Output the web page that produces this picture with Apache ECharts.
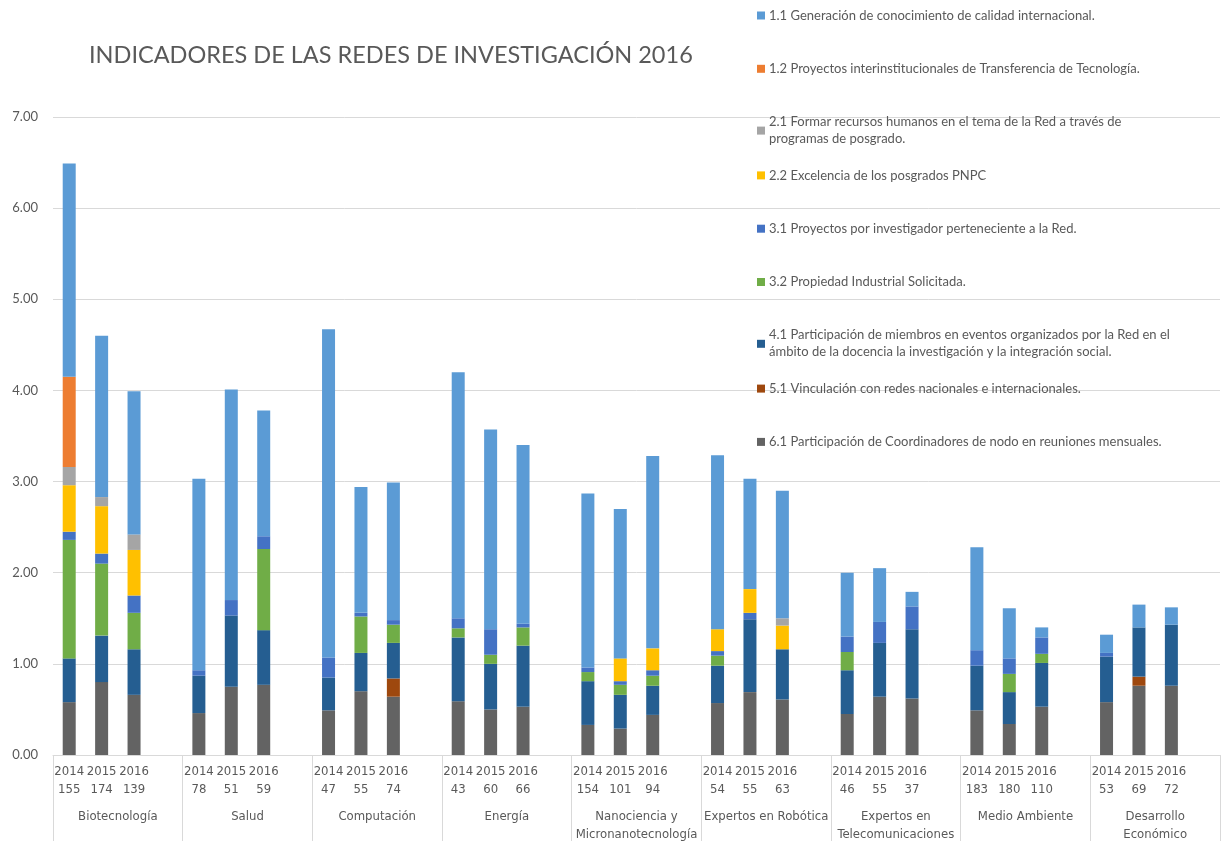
<!DOCTYPE html>
<html><head><meta charset="utf-8">
<script src="https://cdn.jsdelivr.net/npm/echarts/dist/echarts.min.js"></script>
<style>html,body{margin:0;padding:0;background:#fff}#c{width:1225px;height:844px}</style>
</head><body><div id="c"></div>
<script>
// ---- data ----
const groups = ['Biotecnología','Salud','Computación','Energía','Nanociencia y\nMicronanotecnología','Expertos en Robótica','Expertos en\nTelecomunicaciones','Medio Ambiente','Desarrollo\nEconómico'];
const years = ['2014','2015','2016'];
const counts = [155,174,139, 78,51,59, 47,55,74, 43,60,66, 154,101,94, 54,55,63, 46,55,37, 183,180,110, 53,69,72];
const yTicks = [0,1,2,3,4,5,6,7];

const names = {
  s11:'1.1 Generación de conocimiento de calidad internacional.',
  s12:'1.2 Proyectos interinstitucionales de Transferencia de Tecnología.',
  s21:'2.1 Formar recursos humanos en el tema de la Red a través de\nprogramas de posgrado.',
  s22:'2.2 Excelencia de los posgrados PNPC',
  s31:'3.1 Proyectos por investigador perteneciente a la Red.',
  s32:'3.2 Propiedad Industrial Solicitada.',
  s41:'4.1 Participación de miembros en eventos organizados por la Red en el\námbito de la docencia la investigación y la integración social.',
  s51:'5.1 Vinculación con redes nacionales e internacionales.',
  s61:'6.1 Participación de Coordinadores de nodo en reuniones mensuales.'
};
// values per bar: 9 groups x (2014, 2015, 2016)
const s61 = [0.58,0.80,0.66, 0.46,0.75,0.77, 0.49,0.70,0.64, 0.59,0.50,0.53, 0.33,0.29,0.44, 0.57,0.69,0.61, 0.45,0.64,0.62, 0.49,0.34,0.53, 0.58,0.76,0.76];
const s51 = [0,0,0, 0,0,0, 0,0,0.20, 0,0,0, 0,0,0, 0,0,0, 0,0,0, 0,0,0, 0,0.10,0];
const s41 = [0.48,0.51,0.50, 0.41,0.78,0.60, 0.36,0.42,0.39, 0.70,0.50,0.67, 0.48,0.37,0.32, 0.41,0.80,0.55, 0.48,0.59,0.76, 0.49,0.35,0.48, 0.50,0.54,0.67];
const s32 = [1.30,0.79,0.40, 0,0,0.89, 0,0.40,0.20, 0.10,0.10,0.20, 0.10,0.11,0.11, 0.11,0,0, 0.20,0,0, 0,0.20,0.10, 0,0,0];
const s31 = [0.09,0.11,0.19, 0.06,0.17,0.14, 0.22,0.04,0.05, 0.11,0.28,0.04, 0.05,0.04,0.06, 0.05,0.07,0, 0.17,0.23,0.25, 0.17,0.17,0.18, 0.04,0,0];
const s22 = [0.51,0.52,0.50, 0,0,0, 0,0,0, 0,0,0, 0,0.25,0.24, 0.24,0.26,0.26, 0,0,0, 0,0,0, 0,0,0];
const s21 = [0.20,0.10,0.17, 0,0,0, 0,0,0, 0,0,0, 0,0,0, 0,0,0.08, 0,0,0, 0,0,0, 0,0,0];
const s12 = [0.99,0,0, 0,0,0, 0,0,0, 0,0,0, 0,0,0, 0,0,0, 0,0,0, 0,0,0, 0,0,0];
const s11 = [2.34,1.77,1.57, 2.10,2.31,1.38, 3.60,1.38,1.51, 2.70,2.19,1.96, 1.91,1.64,2.11, 1.91,1.21,1.40, 0.70,0.59,0.16, 1.13,0.55,0.11, 0.20,0.25,0.19];

// ---- build ----
const colors = {s11:'#5B9BD5',s12:'#ED7D31',s21:'#A5A5A5',s22:'#FFC000',s31:'#4472C4',s32:'#70AD47',s41:'#255E91',s51:'#9E480E',s61:'#636363'};
const valuesByKey = {s61,s51,s41,s32,s31,s22,s21,s12,s11};
const stackOrder = ['s61','s51','s41','s32','s31','s22','s21','s12','s11'];
const legendOrder = ['s11','s12','s21','s22','s31','s32','s41','s51','s61'];

const catKeys = [], catLabels = [];
groups.forEach((g, gi) => {
  years.forEach((y, yi) => { catKeys.push('g'+gi+'y'+yi); catLabels.push(y + '\n' + counts[gi*3+yi]); });
  catKeys.push('g'+gi+'gap'); catLabels.push('');
});
function expand(arr){
  const out = [];
  groups.forEach((g, gi) => { for (let k=0;k<3;k++) out.push(arr[gi*3+k]); out.push(null); });
  return out;
}
const fontTxt = "Lato, 'Noto Sans', sans-serif";
const fontNarrow = "'Liberation Sans Narrow', 'DejaVu Sans Condensed', Lato, sans-serif";

const series = stackOrder.map(k => ({
  name: names[k], type: 'bar', stack: 'total', barWidth: 13,
  itemStyle: {color: colors[k]}, data: expand(valuesByKey[k]), animation: false
}));

const legends = legendOrder.map((k, i) => ({
  data: [names[k]], left: 757, top: 7 + i*53.3, orient: 'vertical', padding: 0,
  itemWidth: 8, itemHeight: 8, itemGap: 0, icon: 'rect', selectedMode: false,
  textStyle: {color:'#595959', fontSize: 13, lineHeight: 17, fontFamily: fontTxt, padding:[0,0,0,-1]}
}));

const chart = echarts.init(document.getElementById('c'));
chart.setOption({
  animation: false,
  backgroundColor: '#fff',
  title: { text: 'INDICADORES DE LAS REDES DE INVESTIGACIÓN 2016', left: 84, top: 38,
    textStyle: {color:'#595959', fontSize: 23.5, fontWeight: 'normal', fontFamily: fontTxt} },
  legend: legends,
  grid: {left: 53, right: 5, top: 117, bottom: 86, containLabel: false},
  xAxis: [
    { type:'category', data: catKeys, boundaryGap: true,
      axisLine: {show: true, lineStyle: {color:'#d9d9d9'}},
      axisTick: {show: false},
      axisLabel: {interval: 0, margin: 8, color:'#595959', fontSize: 13, lineHeight: 18, fontFamily: fontNarrow,
        formatter: (v, i) => catLabels[i]} },
    { type:'category', data: groups, boundaryGap: true, position: 'bottom',
      axisLine: {show: false},
      axisTick: {show: true, interval: 0, length: 86, lineStyle: {color:'#d9d9d9'}},
      axisLabel: {interval: 0, margin: 53, color:'#595959', fontSize: 13, lineHeight: 18, fontFamily: fontNarrow} }
  ],
  yAxis: { type:'value', min: yTicks[0], max: yTicks[yTicks.length-1], interval: 1,
    axisLine: {show:false}, axisTick: {show:false},
    splitLine: {lineStyle: {color:'#d9d9d9'}},
    axisLabel: {color:'#595959', fontSize: 13, margin: 15, fontFamily: fontTxt, formatter: v => v.toFixed(2)} },
  series
});
</script>
</body></html>
